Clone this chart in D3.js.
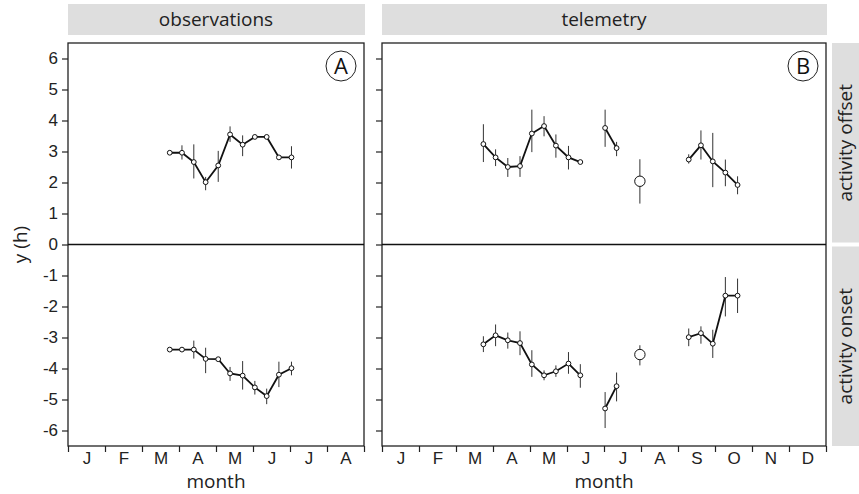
<!DOCTYPE html>
<html>
<head>
<meta charset="utf-8">
<script src="https://cdn.jsdelivr.net/npm/d3@7"></script>
<style>
  body { margin: 0; background: #fff; }
  svg { font-family: "Open Sans", "Noto Sans", sans-serif; }
  .tick text { font-size: 17px; fill: #222; }
  .domain { display: none; }
  .tick line { stroke: #222; stroke-width: 1.2; }
  .label { font-size: 19px; fill: #222; text-anchor: middle; }
</style>
</head>
<body>
<svg width="859" height="494"></svg>
<script>
// **** data ****
const monthLetters = ['J', 'F', 'M', 'A', 'M', 'J', 'J', 'A', 'S', 'O', 'N', 'D'];
const yTicks = [-6, -5, -4, -3, -2, -1, 0, 1, 2, 3, 4, 5, 6];

// observations (x in months since 1 Jan)
const obsMonths = [2.75, 3.08, 3.40, 3.72, 4.06, 4.38, 4.72, 5.05, 5.37, 5.70, 6.04];
const obsOffset = [2.96, 2.96, 2.66, 2.01, 2.55, 3.55, 3.22, 3.47, 3.47, 2.81, 2.81];
const obsOffsetLo = [2.92, 2.74, 2.13, 1.75, 2.02, 3.31, 2.85, 3.43, 3.43, 2.76, 2.45];
const obsOffsetHi = [3.00, 3.20, 3.23, 2.18, 3.02, 3.81, 3.52, 3.51, 3.51, 2.86, 3.17];
const obsOnset = [-3.39, -3.39, -3.39, -3.69, -3.70, -4.16, -4.23, -4.61, -4.89, -4.20, -3.99];
const obsOnsetLo = [-3.43, -3.43, -3.68, -4.15, -3.74, -4.40, -4.68, -4.84, -5.15, -4.60, -4.22];
const obsOnsetHi = [-3.35, -3.35, -3.10, -3.33, -3.66, -3.95, -3.76, -4.40, -4.65, -3.78, -3.78];

// telemetry
const telMonths = [2.74, 3.07, 3.40, 3.73, 4.05, 4.38, 4.70, 5.04, 5.36, 6.03, 6.34, 6.97, 8.29, 8.62, 8.94, 9.28, 9.61];
const telGroup = [1, 1, 1, 1, 1, 1, 1, 1, 1, 2, 2, 3, 4, 4, 4, 4, 4];
const telOffset = [3.24, 2.81, 2.50, 2.53, 3.58, 3.82, 3.19, 2.81, 2.66, 3.76, 3.11, 2.04, 2.74, 3.20, 2.68, 2.32, 1.92];
const telOffsetLo = [2.66, 2.53, 2.18, 2.18, 2.98, 3.49, 2.80, 2.42, 2.62, 3.15, 2.85, 1.32, 2.61, 2.74, 1.85, 1.88, 1.62];
const telOffsetHi = [3.88, 3.07, 2.79, 2.85, 4.35, 4.14, 3.55, 3.18, 2.70, 4.35, 3.31, 2.75, 2.91, 3.68, 3.60, 2.74, 2.20];
const telOnset = [-3.22, -2.93, -3.09, -3.18, -3.87, -4.22, -4.09, -3.84, -4.22, -5.29, -4.57, -3.55, -2.99, -2.86, -3.20, -1.65, -1.65];
const telOnsetLo = [-3.47, -3.28, -3.36, -3.57, -4.27, -4.38, -4.27, -4.17, -4.62, -5.92, -5.06, -3.90, -3.28, -3.20, -3.66, -2.32, -2.21];
const telOnsetHi = [-2.96, -2.58, -2.84, -2.80, -3.41, -4.06, -3.90, -3.47, -3.86, -4.76, -4.13, -3.25, -2.71, -2.64, -2.75, -1.05, -1.10];

// **** layout ****
const svg = d3.select('svg');
const plotTop = 43, plotBottom = 446;
const yScale = d3.scaleLinear().domain([-6.5, 6.5]).range([plotBottom, plotTop]);

const panels = [
  { name: 'observations', letter: 'A', x0: 68, x1: 364, months: 8 },
  { name: 'telemetry', letter: 'B', x0: 382, x1: 826, months: 12 }
];
panels.forEach(p => {
  p.x = d3.scaleLinear().domain([0, p.months]).range([p.x0, p.x1]);
});

// strips
panels.forEach(p => {
  svg.append('rect').attr('x', p.x0).attr('y', 4).attr('width', p.x1 - p.x0 + 1).attr('height', 31)
    .style('fill', '#dedede');
  svg.append('text').attr('class', 'label').attr('x', (p.x0 + p.x1) / 2).attr('y', 26).text(p.name);
});
const rowStrips = [
  { name: 'activity offset', y0: 6.5, y1: 0 },
  { name: 'activity onset', y0: 0, y1: -6.5 }
];
rowStrips.forEach((r, i) => {
  const ya = yScale(r.y0) + (i === 1 ? 2 : 0), yb = yScale(r.y1) - (i === 0 ? 2 : 0);
  svg.append('rect').attr('x', 832).attr('y', ya).attr('width', 27).attr('height', yb - ya)
    .style('fill', '#dedede');
  svg.append('text').attr('class', 'label')
    .attr('transform', `translate(852,${(ya + yb) / 2}) rotate(-90)`).text(r.name);
});

// axes
panels.forEach((p, i) => {
  svg.append('g').attr('class', 'y axis')
    .attr('transform', `translate(${p.x0},0)`)
    .call(d3.axisLeft(yScale).tickValues(yTicks).tickSize(6).tickPadding(4)
      .tickFormat(d => i === 0 ? String(d) : ''));

  svg.append('g').attr('class', 'x axis')
    .attr('transform', `translate(0,${plotBottom})`)
    .call(d3.axisBottom(p.x).tickValues(d3.range(0, p.months + 1)).tickSize(6).tickFormat(''));

  svg.append('g').attr('class', 'x axis labels')
    .attr('transform', `translate(0,${plotBottom})`)
    .call(d3.axisBottom(p.x).tickValues(d3.range(0, p.months).map(m => m + 0.5)).tickSize(0).tickPadding(6)
      .tickFormat((d, k) => monthLetters[k]));

  svg.append('text').attr('class', 'label').attr('x', (p.x0 + p.x1) / 2).attr('y', 488).text('month');

  // frame and zero line
  svg.append('rect').attr('x', p.x0).attr('y', plotTop).attr('width', p.x1 - p.x0).attr('height', plotBottom - plotTop)
    .style('fill', 'none').style('stroke', '#222').style('stroke-width', 1.3);
  svg.append('line').attr('x1', p.x0).attr('x2', p.x1).attr('y1', yScale(0)).attr('y2', yScale(0))
    .style('stroke', '#111').style('stroke-width', 1.3);

  // panel letter
  svg.append('circle').attr('cx', p.x1 - 23).attr('cy', 66).attr('r', 15)
    .style('fill', 'none').style('stroke', '#222').style('stroke-width', 1);
  svg.append('text').attr('x', p.x1 - 23).attr('y', 74).attr('text-anchor', 'middle')
    .style('font-size', '22px').style('fill', '#111').text(p.letter);
});

svg.append('text').attr('class', 'label')
  .attr('transform', `translate(27,${yScale(0)}) rotate(-90)`).text('y (h)');

// **** series ****
function drawSeries(p, months, vals, lo, hi, groups) {
  const pts = months.map((m, i) => ({ m, v: vals[i], lo: lo[i], hi: hi[i], g: groups ? groups[i] : 0 }));
  const g = svg.append('g');
  g.selectAll('line.err').data(pts).enter().append('line')
    .attr('x1', d => p.x(d.m)).attr('x2', d => p.x(d.m))
    .attr('y1', d => yScale(d.lo)).attr('y2', d => yScale(d.hi))
    .style('stroke', '#333').style('stroke-width', 1);

  const byGroup = d3.groups(pts, d => d.g);
  const line = d3.line().x(d => p.x(d.m)).y(d => yScale(d.v));
  byGroup.forEach(([key, arr]) => {
    if (arr.length > 1) {
      g.append('path').attr('d', line(arr))
        .style('fill', 'none').style('stroke', '#111').style('stroke-width', 1.8);
    }
  });
  byGroup.forEach(([key, arr]) => {
    g.selectAll(null).data(arr).enter().append('circle')
      .attr('cx', d => p.x(d.m)).attr('cy', d => yScale(d.v))
      .attr('r', arr.length > 1 ? 2.4 : 5.2)
      .style('fill', '#fff').style('stroke', '#111').style('stroke-width', 1);
  });
}

drawSeries(panels[0], obsMonths, obsOffset, obsOffsetLo, obsOffsetHi, null);
drawSeries(panels[0], obsMonths, obsOnset, obsOnsetLo, obsOnsetHi, null);
drawSeries(panels[1], telMonths, telOffset, telOffsetLo, telOffsetHi, telGroup);
drawSeries(panels[1], telMonths, telOnset, telOnsetLo, telOnsetHi, telGroup);
</script>
</body>
</html>
